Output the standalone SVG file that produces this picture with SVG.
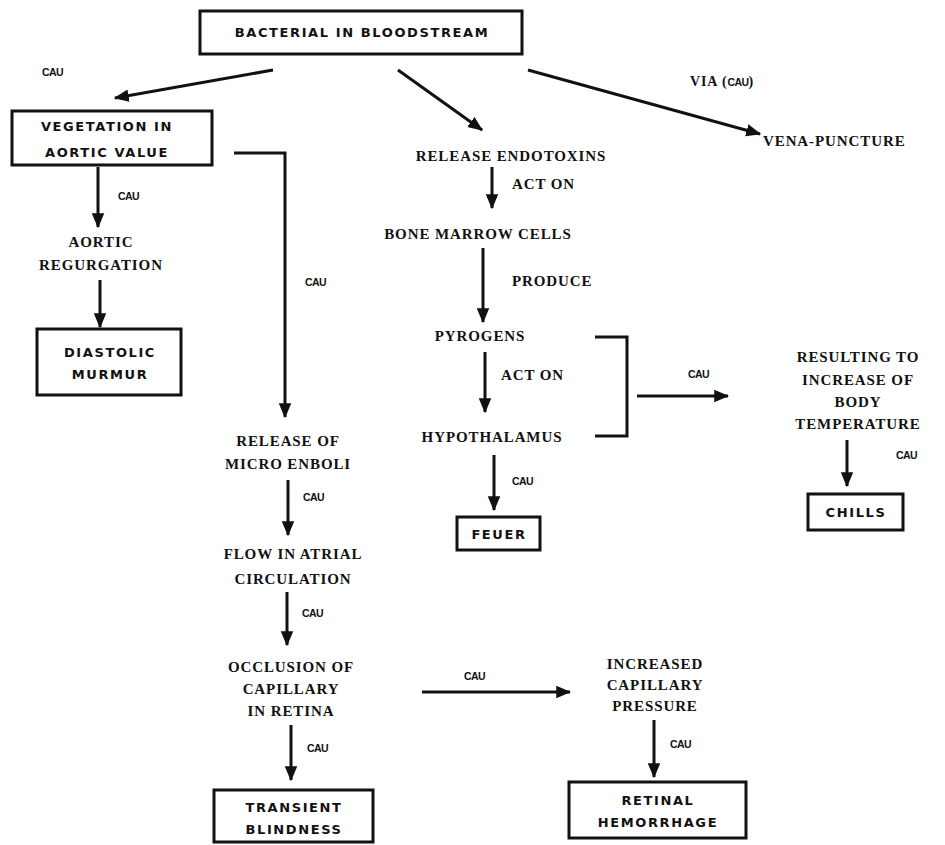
<svg xmlns="http://www.w3.org/2000/svg" width="945" height="845" viewBox="0 0 945 845">
<style>
.box{fill:#fff;stroke:#111;stroke-width:3}
.bt{font-family:"DejaVu Sans",sans-serif;font-weight:bold;font-size:13px;letter-spacing:1.6px;fill:#111;text-anchor:middle}
.st{font-family:"Liberation Serif",serif;font-weight:bold;font-size:15px;letter-spacing:0.9px;fill:#111;text-anchor:middle}
.lb{font-family:"Liberation Serif",serif;font-weight:bold;font-size:15px;letter-spacing:0.9px;fill:#111}
.cau{font-family:"Liberation Sans",sans-serif;font-weight:bold;font-size:10.5px;fill:#111;letter-spacing:-0.6px}
.ln{fill:none;stroke:#111;stroke-width:3}
</style>
<defs>
<marker id="ah" viewBox="0 0 12 10" refX="11" refY="5" markerWidth="5" markerHeight="4.6" orient="auto" markerUnits="strokeWidth">
<path d="M0,0 L12,5 L0,10 z" fill="#111"/>
</marker>
</defs>
<rect width="945" height="845" fill="#fff"/>

<g id="connectors">
<line class="ln" x1="273" y1="70" x2="115" y2="98" marker-end="url(#ah)"/>
<line class="ln" x1="398" y1="70" x2="482" y2="130" marker-end="url(#ah)"/>
<line class="ln" x1="528" y1="70" x2="760" y2="134" marker-end="url(#ah)"/>
<line class="ln" x1="492" y1="167" x2="492" y2="208" marker-end="url(#ah)"/>
<line class="ln" x1="483" y1="248" x2="483" y2="322" marker-end="url(#ah)"/>
<line class="ln" x1="485" y1="352" x2="485" y2="412" marker-end="url(#ah)"/>
<polyline class="ln" points="595,337 627,337 627,436 595,436"/>
<line class="ln" x1="637" y1="396" x2="728" y2="396" marker-end="url(#ah)"/>
<line class="ln" x1="847" y1="440" x2="847" y2="486" marker-end="url(#ah)"/>
<line class="ln" x1="494" y1="455" x2="494" y2="510" marker-end="url(#ah)"/>
<line class="ln" x1="98" y1="167" x2="98" y2="227" marker-end="url(#ah)"/>
<line class="ln" x1="100" y1="280" x2="100" y2="327" marker-end="url(#ah)"/>
<polyline class="ln" points="234,153 285,153 285,417" marker-end="url(#ah)"/>
<line class="ln" x1="288" y1="480" x2="288" y2="535" marker-end="url(#ah)"/>
<line class="ln" x1="287" y1="592" x2="287" y2="645" marker-end="url(#ah)"/>
<line class="ln" x1="291" y1="725" x2="291" y2="780" marker-end="url(#ah)"/>
<line class="ln" x1="422" y1="692" x2="570" y2="692" marker-end="url(#ah)"/>
<line class="ln" x1="654" y1="720" x2="654" y2="777" marker-end="url(#ah)"/>
<text class="cau" x="42" y="76">CAU</text>
<text class="lb" x="690" y="86" style="font-size:14px">VIA  (<tspan class="cau">CAU</tspan>)</text>
<text class="lb" x="512" y="189">ACT ON</text>
<text class="lb" x="512" y="286">PRODUCE</text>
<text class="lb" x="501" y="380">ACT ON</text>
<text class="cau" x="688" y="378">CAU</text>
<text class="cau" x="896" y="459">CAU</text>
<text class="cau" x="512" y="485">CAU</text>
<text class="cau" x="118" y="200">CAU</text>
<text class="cau" x="305" y="286">CAU</text>
<text class="cau" x="303" y="501">CAU</text>
<text class="cau" x="302" y="617">CAU</text>
<text class="cau" x="307" y="752">CAU</text>
<text class="cau" x="464" y="680">CAU</text>
<text class="cau" x="670" y="748">CAU</text>
</g>

<g id="n-bacterial">
<rect class="box" x="200" y="11" width="322" height="43"/>
<text class="bt" x="362" y="37">BACTERIAL IN BLOODSTREAM</text>
</g>
<g id="n-vegetation">
<rect class="box" x="12" y="111" width="200" height="54"/>
<text class="bt" x="107" y="131">VEGETATION IN</text>
<text class="bt" x="107" y="157">AORTIC VALUE</text>
</g>
<g id="n-vena">
<text class="lb" x="763" y="146">VENA-PUNCTURE</text>
</g>
<g id="n-endotoxins">
<text class="st" x="511" y="161">RELEASE ENDOTOXINS</text>
</g>
<g id="n-bonemarrow">
<text class="st" x="478" y="239">BONE MARROW CELLS</text>
</g>
<g id="n-pyrogens">
<text class="st" x="480" y="341">PYROGENS</text>
</g>
<g id="n-hypothalamus">
<text class="st" x="492" y="442">HYPOTHALAMUS</text>
</g>
<g id="n-resulting">
<text class="st" x="858" y="362">RESULTING TO</text>
<text class="st" x="858" y="385">INCREASE OF</text>
<text class="st" x="858" y="407">BODY</text>
<text class="st" x="858" y="429">TEMPERATURE</text>
</g>
<g id="n-chills">
<rect class="box" x="808" y="494" width="95" height="36"/>
<text class="bt" x="856" y="517">CHILLS</text>
</g>
<g id="n-fever">
<rect class="box" x="457" y="517" width="83" height="33"/>
<text class="bt" x="499" y="539">FEUER</text>
</g>
<g id="n-regurgitation">
<text class="st" x="101" y="247">AORTIC</text>
<text class="st" x="101" y="270">REGURGATION</text>
</g>
<g id="n-diastolic">
<rect class="box" x="37" y="329" width="144" height="66"/>
<text class="bt" x="110" y="357">DIASTOLIC</text>
<text class="bt" x="110" y="379">MURMUR</text>
</g>
<g id="n-emboli">
<text class="st" x="288" y="446">RELEASE OF</text>
<text class="st" x="288" y="469">MICRO ENBOLI</text>
</g>
<g id="n-flow">
<text class="st" x="293" y="559">FLOW IN ATRIAL</text>
<text class="st" x="293" y="584">CIRCULATION</text>
</g>
<g id="n-occlusion">
<text class="st" x="291" y="672">OCCLUSION OF</text>
<text class="st" x="291" y="694">CAPILLARY</text>
<text class="st" x="291" y="716">IN RETINA</text>
</g>
<g id="n-blindness">
<rect class="box" x="214" y="790" width="159" height="52"/>
<text class="bt" x="294" y="812">TRANSIENT</text>
<text class="bt" x="294" y="834">BLINDNESS</text>
</g>
<g id="n-pressure">
<text class="st" x="655" y="669">INCREASED</text>
<text class="st" x="655" y="690">CAPILLARY</text>
<text class="st" x="655" y="711">PRESSURE</text>
</g>
<g id="n-hemorrhage">
<rect class="box" x="569" y="782" width="177" height="56"/>
<text class="bt" x="658" y="805">RETINAL</text>
<text class="bt" x="658" y="827">HEMORRHAGE</text>
</g>
</svg>
